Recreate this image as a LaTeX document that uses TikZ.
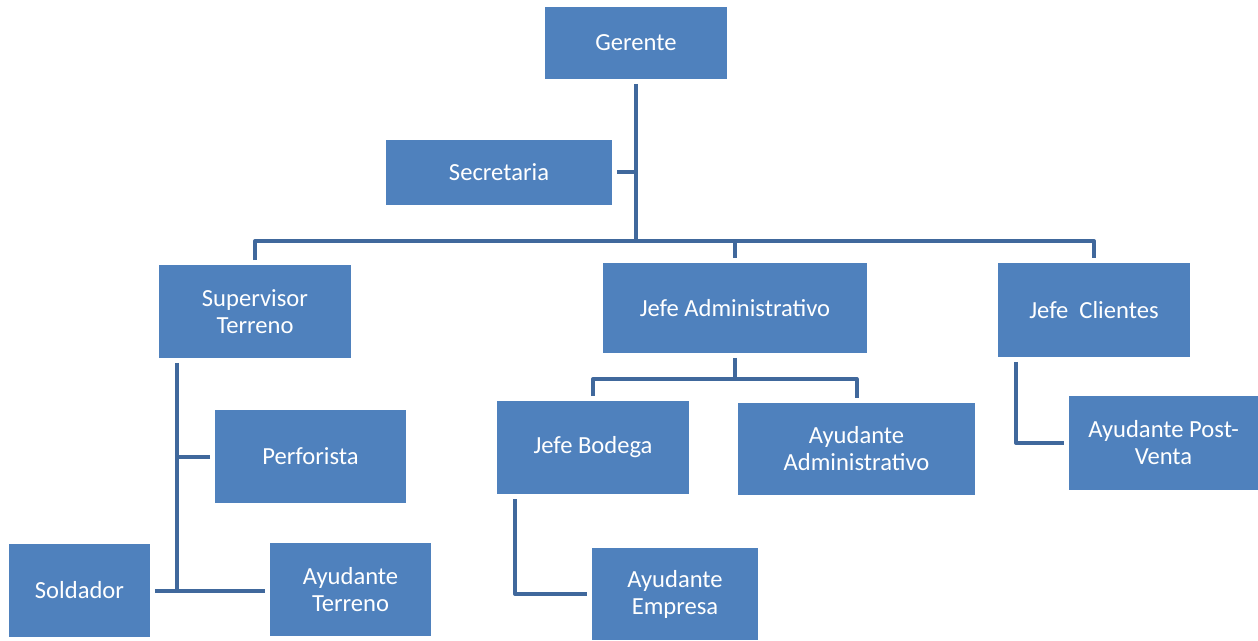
\documentclass[tikz,border=0pt]{standalone}
\usepackage{fontspec}
\setmainfont{Carlito}
\definecolor{boxblue}{RGB}{79,129,189}
\definecolor{lineblue}{RGB}{64,104,156}

\begin{document}
\begin{tikzpicture}[x=0.02cm, y=-0.02cm,
  every node/.style={fill=boxblue, text=white, align=center, inner sep=0pt, outer sep=0.1cm,
    font=\fontsize{14}{15.4}\selectfont},
  link/.style={draw=lineblue, line width=0.08cm, line join=round}]
\useasboundingbox (0,0) rectangle (1258,640);

\node[minimum width=3.64cm, minimum height=1.44cm] (ger) at (636,43) {Gerente};
\node[minimum width=4.52cm, minimum height=1.30cm] (sec) at (499,172) {Secretaria};

\node[minimum width=3.84cm, minimum height=1.86cm] (sup) at (255,311.5) {Supervisor\\Terreno};
\node[minimum width=5.30cm, minimum height=1.80cm] (jad) at (735,308) {Jefe Administrativo};
\node[minimum width=3.84cm, minimum height=1.88cm] (jcl) at (1094,310) {Jefe\ \ Clientes};

\node[minimum width=3.82cm, minimum height=1.86cm] (per) at (310.5,456.5) {Perforista};
\node[minimum width=2.82cm, minimum height=1.86cm] (sol) at (79.5,590.5) {Soldador};
\node[minimum width=3.22cm, minimum height=1.86cm] (ayt) at (350.5,589.5) {Ayudante\\Terreno};

\node[minimum width=3.84cm, minimum height=1.86cm] (jbo) at (593,447.5) {Jefe Bodega};
\node[minimum width=4.74cm, minimum height=1.84cm] (aad) at (856.5,449) {Ayudante\\Administrativo};
\node[minimum width=3.32cm, minimum height=1.84cm] (aem) at (675,594) {Ayudante\\Empresa};

\node[minimum width=3.78cm, minimum height=1.88cm] (apv) at (1163.5,443) {Ayudante Post-\\Venta};

\coordinate (bus) at (636,241);
\coordinate (tsup) at (177,590);
\coordinate (tjbo) at (515,594);
\coordinate (tjcl) at (1016,443);
\coordinate (bus2) at ([yshift=-0.42cm]jad.south);

\draw[link] (ger.south) -- (ger.south |- bus);
\draw[link] (sec.east) -- (sec.east -| ger.south);
\draw[link] (sup.north) |- (bus) -| (jcl.north);
\draw[link] (jad.north) -- (jad.north |- bus);

\draw[link] (sup.south -| tsup) -- (tsup);
\draw[link] (per.west) -- (per.west -| tsup);
\draw[link] (sol.east) -- (sol.east -| ayt.west);

\draw[link] (jad.south) -- (bus2);
\draw[link] (jbo.north) |- (bus2) -| (aad.north);
\draw[link] (jbo.south -| tjbo) -- (tjbo) -- (aem.west);

\draw[link] (jcl.south -| tjcl) -- (tjcl) -- (apv.west);
\end{tikzpicture}
\end{document}
